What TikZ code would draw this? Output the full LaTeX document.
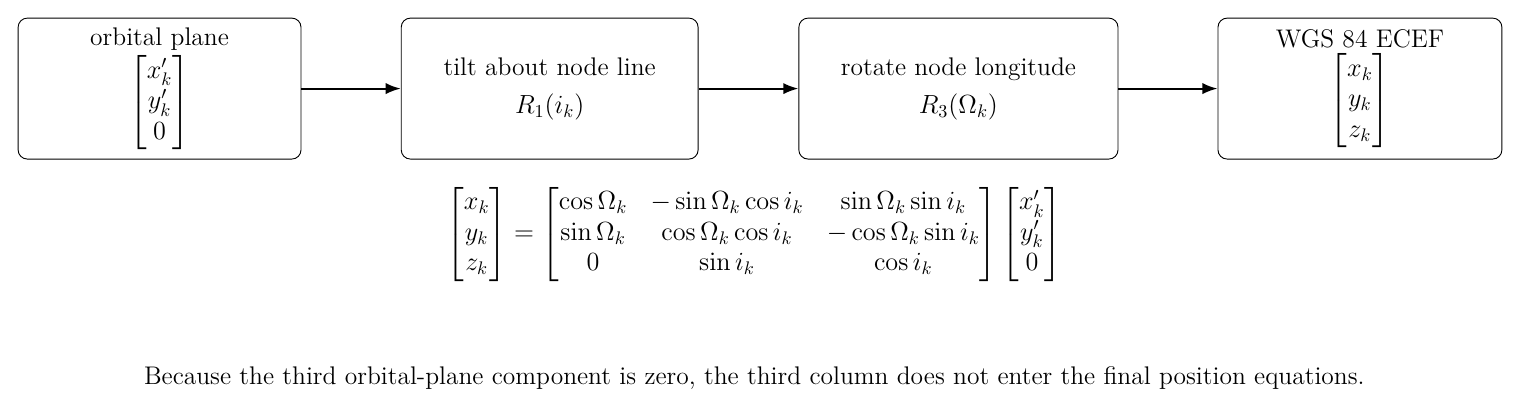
\documentclass[tikz,border=0pt]{standalone}
\usepackage{amsmath}
\usetikzlibrary{arrows.meta}
\begin{document}
\begin{tikzpicture}[
  every node/.style={font=\fontsize{14pt}{16.8pt}\selectfont},
  stagebox/.style={draw, line width=0.5pt, rounded corners=5pt, minimum height=2.72cm, align=center, inner sep=0pt},
  flow/.style={-{Latex[length=8.3pt,width=6.2pt]}, line width=1.1pt}
]
\useasboundingbox (0,0) rectangle (29.34,-8.03);
\node[stagebox, minimum width=5.46cm] (orb) at (3.08,-1.71) {orbital plane\\[2pt] $\begin{bmatrix} x'_k\\ y'_k\\ 0\end{bmatrix}$};
\node[stagebox, minimum width=5.73cm] (tilt) at (10.61,-1.71) {tilt about node line\\[4pt] $R_1(i_k)$};
\node[stagebox, minimum width=6.16cm] (rot) at (18.50,-1.71) {rotate node longitude\\[4pt] $R_3(\Omega_k)$};
\node[stagebox, minimum width=5.48cm] (ecef) at (26.25,-1.71) {WGS 84 ECEF\\[2pt] $\begin{bmatrix} x_k\\ y_k\\ z_k\end{bmatrix}$};
\draw[flow] (orb) -- (tilt);
\draw[flow] (tilt) -- (rot);
\draw[flow] (rot) -- (ecef);
\node (eq) at (14.56,-4.52) {$\begin{bmatrix} x_k\\ y_k\\ z_k\end{bmatrix}
 = \setlength{\arraycolsep}{6.4pt}\begin{bmatrix}
 \cos\Omega_k & -\sin\Omega_k\cos i_k & \sin\Omega_k\sin i_k\\
 \sin\Omega_k & \cos\Omega_k\cos i_k & -\cos\Omega_k\sin i_k\\
 0 & \sin i_k & \cos i_k
 \end{bmatrix}
 \setlength{\arraycolsep}{5pt}\begin{bmatrix} x'_k\\ y'_k\\ 0\end{bmatrix}$};
\node (note) at (14.56,-7.30) {Because the third orbital-plane component is zero, the third column does not enter the final position equations.};
\end{tikzpicture}
\end{document}
